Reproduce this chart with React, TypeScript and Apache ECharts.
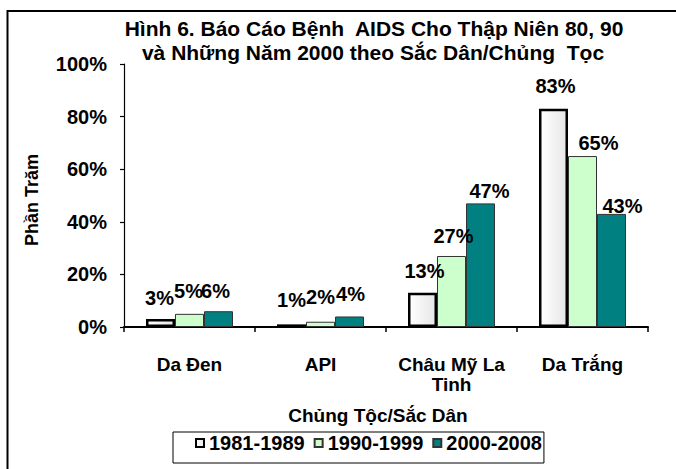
import React, { useEffect, useRef } from "react";
import * as echarts from "echarts";

const categories = ["Da Đen", "API", "Châu Mỹ La\nTinh", "Da Trắng"];
const seriesNames = ["1981-1989", "1990-1999", "2000-2008"];
const values1981 = [3, 1, 13, 83];
const values1990 = [5, 2, 27, 65];
const values2000 = [6, 4, 47, 43];
const yMax = 100;
const yInterval = 20;

const titleLine1 = "Hình 6. Báo Cáo Bệnh  AIDS Cho Thập Niên 80, 90";
const titleLine2 = "và Những Năm 2000 theo Sắc Dân/Chủng  Tọc";
const yAxisName = "Phần Trăm";
const xAxisName = "Chủng Tộc/Sắc Dân";

// label nudges (dx, dy) mimicking the original label placement
const nudge1981 = [[-1, 0], [0, -3], [2, -1], [2, -2]];
const nudge1990 = [[-1, -2], [0, -4], [2, 1], [16, 8]];
const nudge2000 = [[-3, 1], [1, -1], [9, 9], [11, 13]];

const FONT = '"Liberation Sans", Arial, Helvetica, sans-serif';

export default function App() {
  const ref = useRef<HTMLDivElement>(null);
  useEffect(() => {
    if (!ref.current) return;
    const chart = echarts.init(ref.current, undefined, { renderer: "svg" });
    const label = {
      show: true,
      position: "top",
      distance: 11,
      formatter: "{c}%",
      fontSize: 20,
      fontWeight: "bold",
      fontFamily: FONT,
      color: "#000",
      lineHeight: 20,
    };
    const mk = (vals: number[], nudge: number[][]) =>
      vals.map((v, i) => ({ value: v, label: { offset: nudge[i] } }));
    const titleStyle = {
      fontSize: 21,
      fontWeight: "bold",
      fontFamily: FONT,
      fill: "#000",
      align: "center",
      verticalAlign: "middle",
    };
    const option: any = {
      animation: false,
      backgroundColor: "#fff",
      grid: { left: 124, top: 64, width: 524, height: 263, containLabel: false },
      graphic: [
        {
          type: "rect",
          shape: { x: 7.5, y: 11, width: 720, height: 520 },
          style: { fill: "none", stroke: "#000", lineWidth: 2 },
          silent: true,
        },
        { type: "text", x: 374, y: 28, style: { ...titleStyle, text: titleLine1 } },
        { type: "text", x: 373, y: 52, style: { ...titleStyle, text: titleLine2 } },
        {
          type: "text",
          x: 32,
          y: 200,
          rotation: Math.PI / 2,
          style: {
            text: yAxisName,
            fontSize: 18,
            fontWeight: "bold",
            fontFamily: FONT,
            fill: "#000",
            align: "center",
            verticalAlign: "middle",
          },
        },
        {
          type: "text",
          x: 378,
          y: 415,
          style: {
            text: xAxisName,
            fontSize: 19,
            fontWeight: "bold",
            fontFamily: FONT,
            fill: "#000",
            align: "center",
            verticalAlign: "middle",
          },
        },
      ],
      legend: {
        data: seriesNames,
        left: 173,
        top: 432,
        orient: "horizontal",
        icon: "rect",
        itemWidth: 8,
        itemHeight: 8,
        itemGap: 9,
        padding: [1, 2, 10, 22],
        borderColor: "#000",
        borderWidth: 1,
        borderRadius: 0,
        textStyle: {
          fontSize: 20,
          fontWeight: "bold",
          fontFamily: FONT,
          color: "#000",
          lineHeight: 20,
        },
      },
      xAxis: {
        type: "category",
        data: categories,
        axisLine: { show: true, lineStyle: { color: "#000", width: 2 } },
        axisTick: { show: true, length: 5, lineStyle: { color: "#000", width: 1.5 } },
        axisLabel: {
          interval: 0,
          margin: 27,
          fontSize: 19,
          fontWeight: "bold",
          fontFamily: FONT,
          color: "#000",
          lineHeight: 20,
        },
        splitLine: { show: false },
      },
      yAxis: {
        type: "value",
        min: 0,
        max: yMax,
        interval: yInterval,
        axisLine: { show: true, lineStyle: { color: "#000", width: 1.2 } },
        axisTick: { show: true, length: 4, lineStyle: { color: "#000", width: 1.2 } },
        axisLabel: {
          formatter: "{value}%",
          margin: 17,
          fontSize: 20,
          fontWeight: "bold",
          fontFamily: FONT,
          color: "#000",
        },
        splitLine: { show: false },
      },
      series: [
        {
          name: seriesNames[0],
          type: "bar",
          barWidth: 29,
          barGap: "0%",
          data: mk(values1981, nudge1981),
          itemStyle: {
            color: new echarts.graphic.LinearGradient(0, 0, 1, 0, [
              { offset: 0, color: "#ffffff" },
              { offset: 1, color: "#e6e6e6" },
            ]),
            borderColor: "#000",
            borderWidth: 2.5,
          },
          label,
        },
        {
          name: seriesNames[1],
          type: "bar",
          barWidth: 29,
          barGap: "0%",
          data: mk(values1990, nudge1990),
          itemStyle: { color: "#CCFFCC", borderColor: "#333", borderWidth: 1 },
          label,
        },
        {
          name: seriesNames[2],
          type: "bar",
          barWidth: 29,
          barGap: "0%",
          data: mk(values2000, nudge2000),
          itemStyle: { color: "#008080", borderColor: "#333", borderWidth: 1 },
          label,
        },
      ],
    };
    chart.setOption(option);
    return () => chart.dispose();
  }, []);
  return (
    <div
      ref={ref}
      style={{ position: "fixed", left: 0, top: 0, width: 676, height: 469, background: "#fff" }}
    />
  );
}
